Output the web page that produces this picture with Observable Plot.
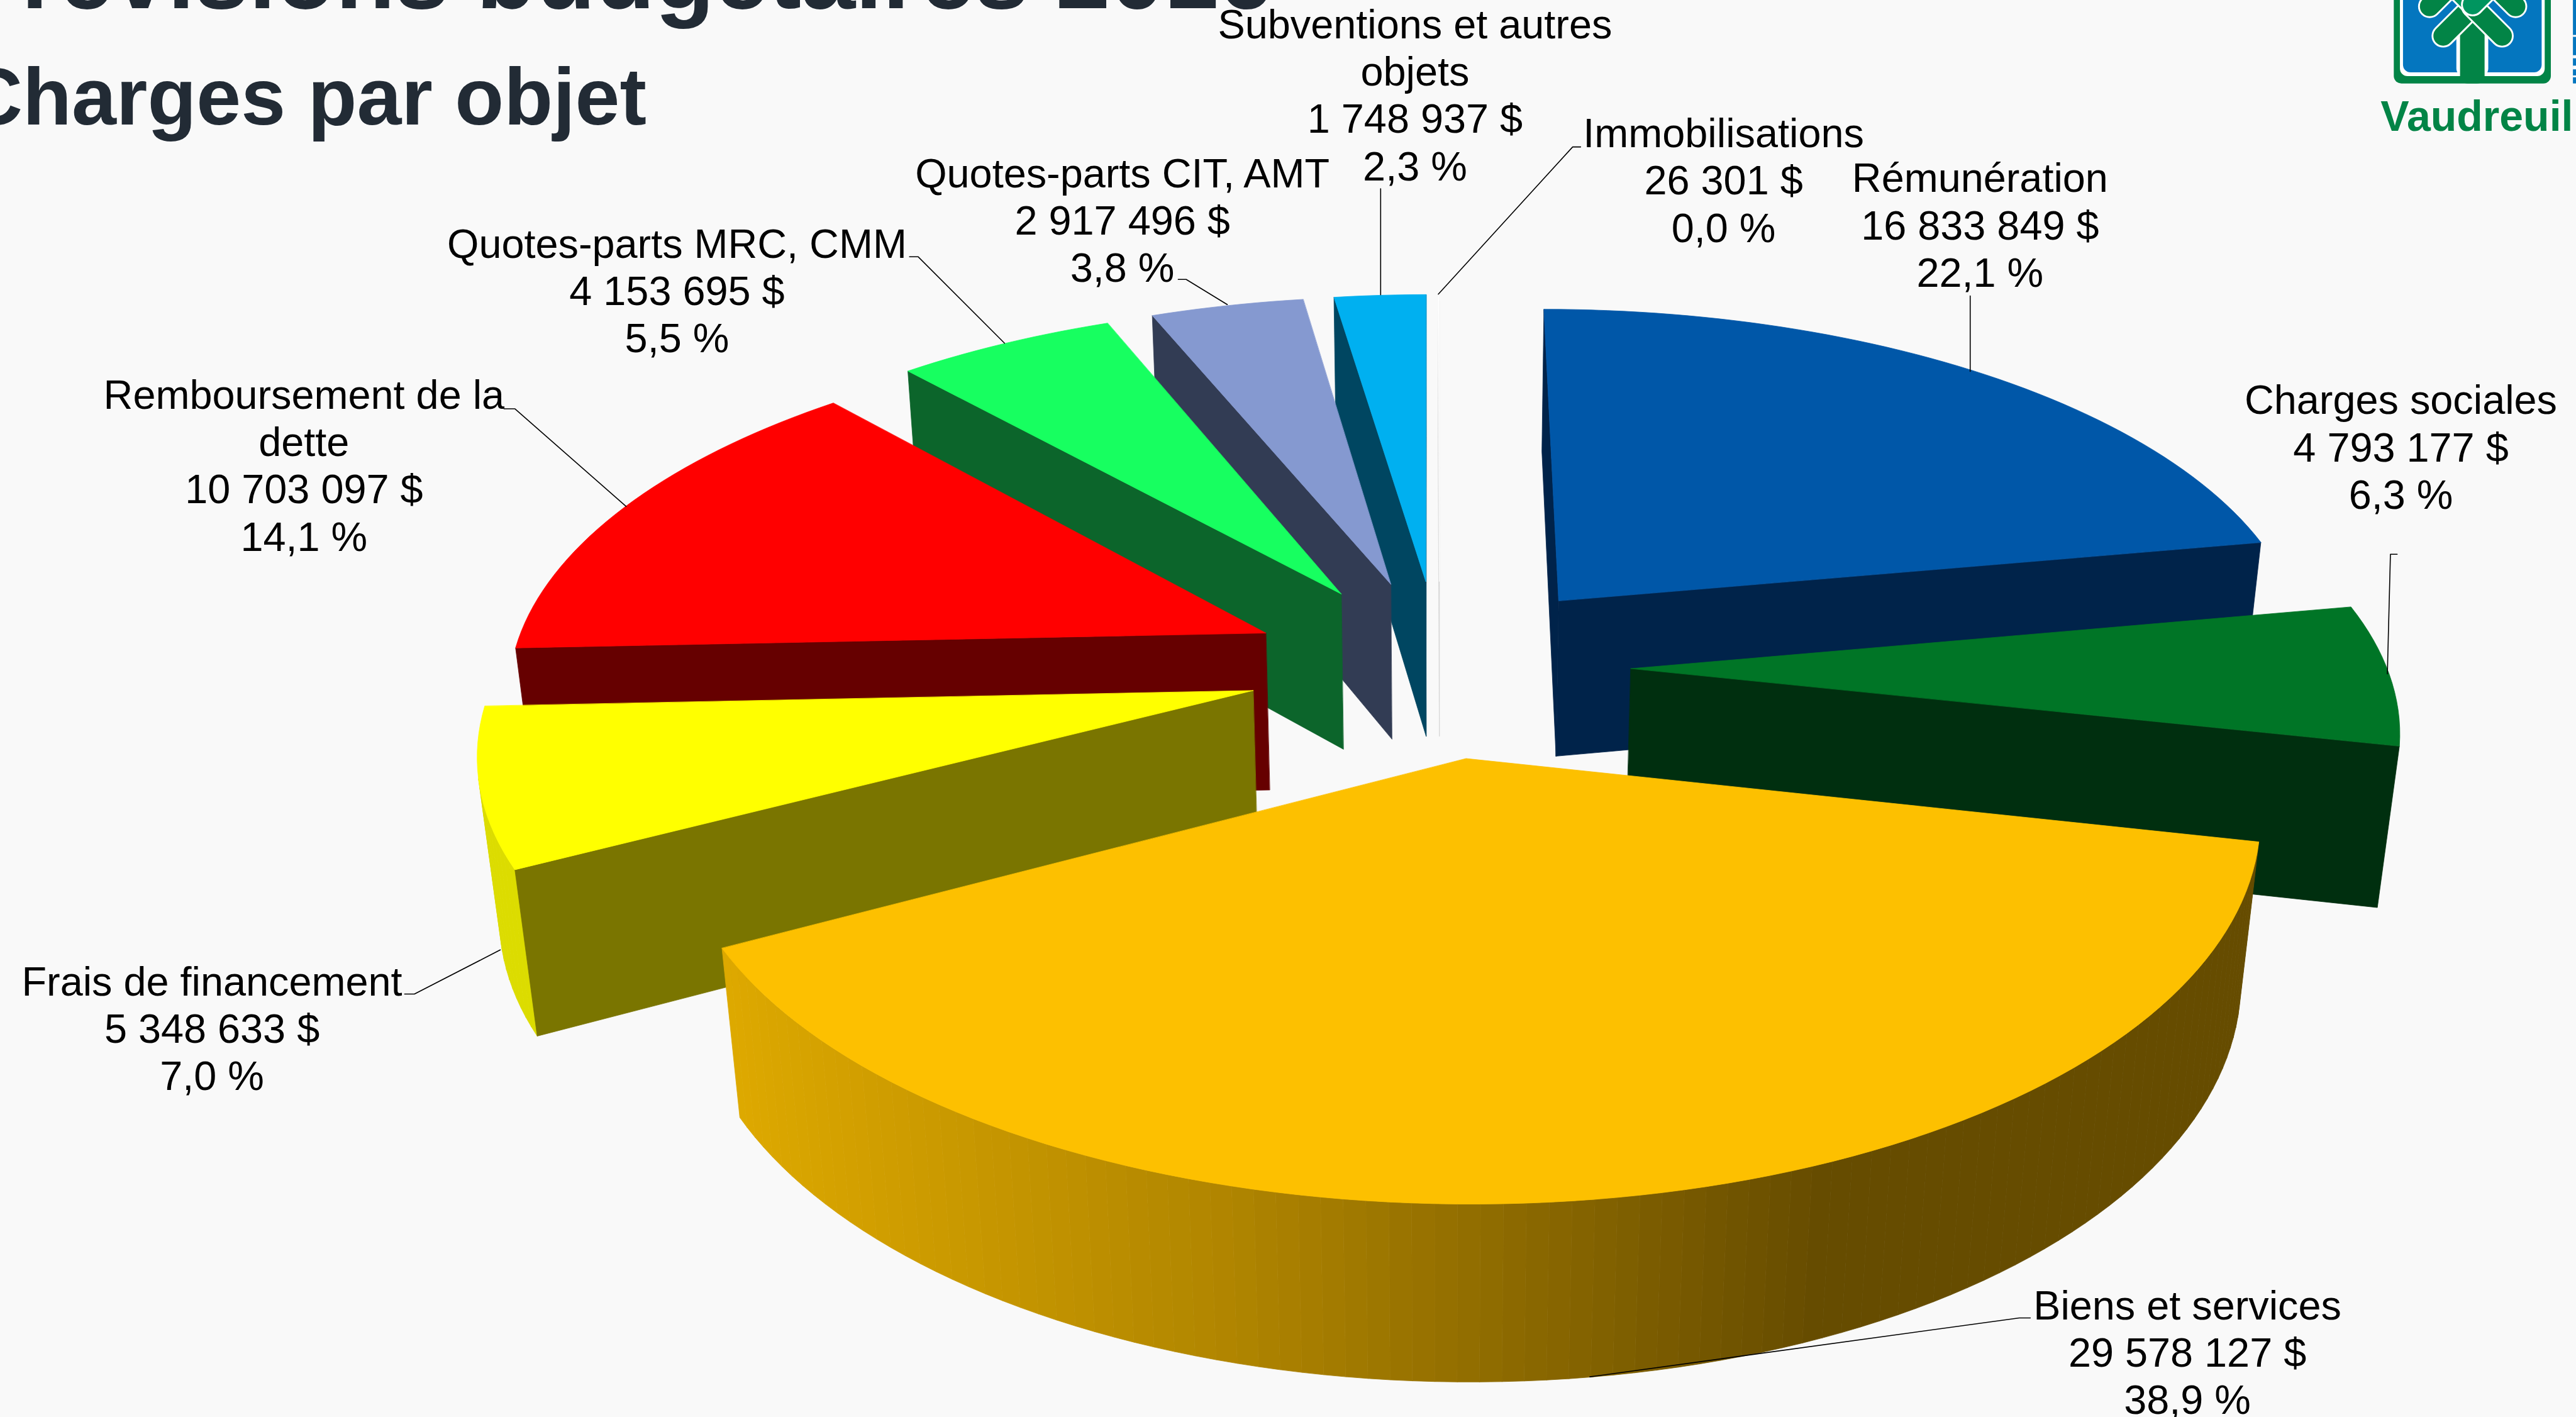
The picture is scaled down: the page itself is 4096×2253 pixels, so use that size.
<!DOCTYPE html>
<html lang="fr">
<head>
<meta charset="utf-8">
<title>Prévisions budgétaires – Charges par objet</title>
<script src="https://cdn.jsdelivr.net/npm/d3@7"></script>
<script src="https://cdn.jsdelivr.net/npm/@observablehq/plot@0.6"></script>
<style>
  html, body { margin: 0; padding: 0; background: #f9f9f9; overflow: hidden; }
  svg { display: block; }
</style>
</head>
<body>
<div id="chart"></div>
<script>
// ---- Data ----
const categories = ["Rémunération", "Charges sociales", "Biens et services", "Frais de financement",
  "Remboursement de la\ndette", "Quotes-parts MRC, CMM", "Quotes-parts CIT, AMT",
  "Subventions et autres\nobjets", "Immobilisations"];
const amounts = [16833849, 4793177, 29578127, 5348633, 10703097, 4153695, 2917496, 1748937, 26301];
const amountLabels = ["16 833 849 $", "4 793 177 $", "29 578 127 $", "5 348 633 $", "10 703 097 $",
  "4 153 695 $", "2 917 496 $", "1 748 937 $", "26 301 $"];
const percentLabels = ["22,1 %", "6,3 %", "38,9 %", "7,0 %", "14,1 %", "5,5 %", "3,8 %", "2,3 %", "0,0 %"];
const topColors  = ["#0057a8", "#007526", "#fdc000", "#ffff00", "#ff0000", "#17ff60", "#8599d0", "#00b0f0", "#ffffff"];
const wallColors = ["#00234a", "#002f0f", "#674c00", "#7a7500", "#660000", "#0c652b", "#323c54", "#004661", "#d8d8d8"];
const outerColors = ["#00234a", "#002f0f", null, "#dcdc00", "#660000", "#0c652b", "#323c54", "#004661", "#d8d8d8"];
const titleLines = ["Prévisions budgétaires 2016", "Charges par objet"];

// ---- Layout (in the reference's pixel space; scales map it to the window) ----
const W = 4199, H = 2310, S = 0.975;
const cam = {cx: 2346, cy: 1087, A: 1232, B: 573, k: 0.145, m: 0.095, C: 1100, explode: 0.253, depth: 0.24};
const paintOrder = [8, 7, 6, 5, 4, 3, 0, 1, 2];
const labelPos = [[3227, 365], [3913, 727], [3565, 2203], [345, 1675], [495, 757], [1103, 472], [1829, 357], [2306, 153], [2809, 292]];
const leaderPts = [
  [[3211, 482], [3211, 605]],
  [[3907, 903], [3896, 903], [3891, 1098]],
  [[3309, 2148], [3291, 2148], [2591, 2244]],
  [[659, 1620], [675, 1620], [815, 1548]],
  [[821, 666], [839, 666], [1020, 825]],
  [[1482, 418], [1496, 418], [1637, 559]],
  [[1920, 455], [1933, 455], [2000, 496]],
  [[2250, 307], [2250, 480]],
  [[2576, 239], [2563, 239], [2344, 479]]
];

// ---- 3D pie geometry ----
function project(X, Y, D = 0) {
  const w = 1 + cam.k * Y + cam.m * D;
  return {x: cam.cx + cam.A * X / w, y: cam.cy - (cam.B * Y - cam.C * D) / w};
}
const total = d3.sum(amounts);
const cumul = d3.cumsum(amounts);
const slices = amounts.map((v, i) => {
  const a0 = (cumul[i] - v) / total * 2 * Math.PI, a1 = cumul[i] / total * 2 * Math.PI, mid = (a0 + a1) / 2;
  return {i, a0, a1, ox: cam.explode * Math.sin(mid), oy: cam.explode * Math.cos(mid)};
});
const ringPt = (s, a) => [s.ox + Math.sin(a), s.oy + Math.cos(a)];
const area2 = (p) => d3.polygonArea(p.map((q) => [q.x, q.y]));
const goldShade = d3.scaleLinear().domain([1173, 2000, 2970]).range(["#dea900", "#b08500", "#664c00"]).clamp(true);

const faces = [];
let fid = 0;
function addFace(pts, color) {
  const id = fid++;
  pts.forEach((p) => faces.push({x: p.x, y: p.y, id, color}));
}
for (const idx of paintOrder) {
  const s = slices[idx];
  const n = Math.max(2, Math.ceil((s.a1 - s.a0) * 40));
  const angles = d3.range(n + 1).map((j) => s.a0 + (s.a1 - s.a0) * j / n);
  const rim = angles.map((a) => ringPt(s, a));
  const top = rim.map(([X, Y]) => project(X, Y, 0));
  const bot = rim.map(([X, Y]) => project(X, Y, cam.depth));
  const apexTop = project(s.ox, s.oy, 0), apexBot = project(s.ox, s.oy, cam.depth);
  const walls = [[apexTop, top[0], bot[0], apexBot], [apexTop, top[n], bot[n], apexBot]];
  const signs = [1, -1];
  for (let j = 0; j < n; j++) {
    const q = [top[j], top[j + 1], bot[j + 1], bot[j]];
    if (area2(q) > 0) {
      const c = outerColors[idx] || goldShade((top[j].x + top[j + 1].x) / 2);
      addFace(q, c);
    }
  }
  walls.forEach((q, w) => {
    if (area2(q) * signs[w] > 0) addFace(q, wallColors[idx]);
  });
  addFace([apexTop, ...top], topColors[idx]);
}

const labels = categories.map((c, i) => ({
  text: `${c}\n${amountLabels[i]}\n${percentLabels[i]}`, x: labelPos[i][0], y: labelPos[i][1]
}));
const leaders = leaderPts.flatMap((pts, id) => pts.map(([x, y]) => ({id, x, y})));
const titles = [
  {text: titleLines[0], x: -72, y: 13, size: 155},
  {text: titleLines[1], x: -58, y: 202, size: 127.5}
];

// ---- Logo (decorative) ----
const logoGreen = "#028446", logoBlue = "#0476bf", logoLight = "#00955f";
const logoRects = [
  {x1: 3902, x2: 4158, y1: -40, y2: 136, fill: logoGreen},
  {x1: 3912, x2: 4148, y1: -40, y2: 124, fill: "#ffffff"},
  {x1: 3917, x2: 4143, y1: -40, y2: 118, fill: logoBlue},
  {x1: 4004, x2: 4056, y1: 30, y2: 124, fill: "#ffffff"},
  {x1: 4010, x2: 4050, y1: 30, y2: 136, fill: logoGreen}
];
const capsules = [
  {x: [4030, 3982], y: [10, 58], c: logoGreen},
  {x: [4030, 4078], y: [10, 58], c: logoGreen},
  {x: [3960, 3993], y: [10, -23], c: logoGreen},
  {x: [4100, 4067], y: [10, -23], c: logoGreen},
  {x: [4030, 4000], y: [7, -23], c: logoLight},
  {x: [4030, 4060], y: [7, -23], c: logoLight}
];
const capsuleMarks = capsules.flatMap((c) => {
  const pts = c.x.map((x, j) => ({x, y: c.y[j]}));
  return [
    Plot.line(pts, {x: "x", y: "y", stroke: "#ffffff", strokeWidth: 38 * S, strokeLinecap: "round"}),
    Plot.line(pts, {x: "x", y: "y", stroke: c.c, strokeWidth: 32 * S, strokeLinecap: "round"})
  ];
});
const stripRects = [
  {x1: 4194, x2: 4199, y1: 0, y2: 136, fill: logoBlue},
  {x1: 4194, x2: 4199, y1: 57, y2: 60, fill: "#ffffff"},
  {x1: 4194, x2: 4199, y1: 90, y2: 95, fill: "#ffffff"},
  {x1: 4194, x2: 4199, y1: 107, y2: 113, fill: "#ffffff"},
  {x1: 4194, x2: 4199, y1: 123, y2: 126, fill: "#ffffff"}
];

const chart = Plot.plot({
  width: 4096, height: 2253, margin: 0,
  style: {background: "#f9f9f9", fontFamily: "'Liberation Sans', Arial, sans-serif", overflow: "hidden"},
  x: {domain: [0, W], range: [0, 4096], axis: null},
  y: {domain: [0, H], range: [0, 2253], axis: null},
  color: {type: "identity"},
  marks: [
    Plot.text(titles, {x: "x", y: "y", text: "text", fontSize: "size", textAnchor: "start", lineAnchor: "bottom",
      fontWeight: "bold", fill: "#222b35"}),
    Plot.line(faces, {x: "x", y: "y", z: "id", fill: "color", stroke: "color", strokeWidth: 0.8, curve: "linear-closed"}),
    Plot.line(leaders, {x: "x", y: "y", z: "id", stroke: "#000000", strokeWidth: 1.6}),
    Plot.text(labels, {x: "x", y: "y", text: "text", fontSize: 64.8, lineHeight: 1.16, textAnchor: "middle",
      lineAnchor: "middle", fill: "#000000"}),
    Plot.rect(logoRects, {x1: "x1", x2: "x2", y1: "y1", y2: "y2", fill: "fill", rx: 12}),
    ...capsuleMarks,
    Plot.rect(stripRects, {x1: "x1", x2: "x2", y1: "y1", y2: "y2", fill: "fill"}),
    Plot.text(["Vaudreuil"], {x: [3880], y: [213], text: (d) => d, fontSize: 68, fontWeight: "bold",
      textAnchor: "start", lineAnchor: "bottom", fill: logoGreen})
  ]
});
document.getElementById("chart").append(chart);
</script>
</body>
</html>
